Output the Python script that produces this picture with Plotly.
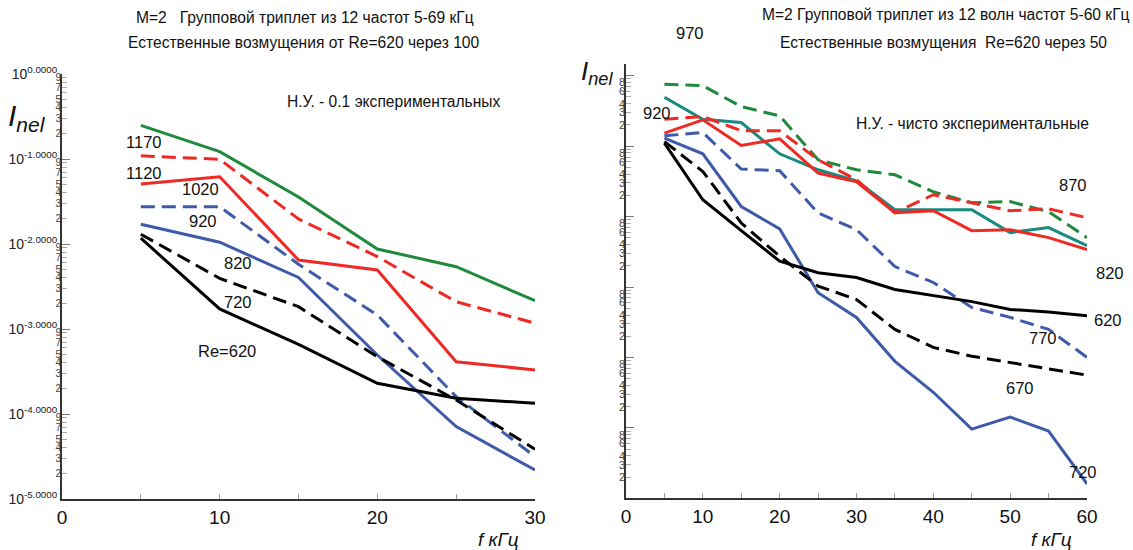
import plotly.graph_objects as go

# ---------------- data ----------------
f_left = [5, 10, 15, 20, 25, 30]
left_1170 = [0.249, 0.122, 0.0357, 0.00873, 0.00541, 0.00215]
left_1120 = [0.109, 0.0991, 0.0197, 0.0071, 0.00209, 0.00117]
left_1020 = [0.0508, 0.0619, 0.00649, 0.00494, 0.000412, 0.00033]
left_920 = [0.0275, 0.0275, 0.00577, 0.00146, 0.00016, 3.15e-5]
left_820 = [0.0171, 0.0105, 0.00404, 0.000494, 7.1e-5, 2.19e-5]
left_720 = [0.013, 0.00394, 0.00183, 0.000472, 0.000146, 3.85e-5]
left_620 = [0.0117, 0.00172, 0.000658, 0.00023, 0.000153, 0.000134]

f_right = [5, 10, 15, 20, 25, 30, 35, 40, 45, 50, 55, 60]
right_970 = [0.755, 0.721, 0.364, 0.269, 0.064, 0.0461, 0.0392, 0.0225, 0.0157, 0.0163, 0.0117, 0.00502]
right_920 = [0.494, 0.241, 0.216, 0.0778, 0.0461, 0.0322, 0.01253, 0.0125, 0.0125, 0.00592, 0.00697, 0.00387]
right_870 = [0.241, 0.263, 0.166, 0.165, 0.064, 0.0333, 0.01135, 0.0204, 0.0157, 0.0121, 0.0129, 0.00964]
right_820 = [0.153, 0.236, 0.102, 0.127, 0.0415, 0.0311, 0.01135, 0.0121, 0.0063, 0.00652, 0.00502, 0.0034]
right_770 = [0.14, 0.156, 0.0472, 0.0447, 0.01125, 0.00652, 0.00195, 0.00116, 0.000513, 0.00037, 0.00025, 0.0001]
right_720 = [0.13, 0.0778, 0.0139, 0.00667, 0.000828, 0.00037, 8.8e-5, 3.2e-5, 9.6e-6, 1.42e-5, 9e-6, 1.6e-6]
right_670 = [0.116, 0.0437, 0.0081, 0.00273, 0.00103, 0.000665, 0.00025, 0.000139, 0.000104, 8.5e-5, 6.8e-5, 5.6e-5]
right_620 = [0.110, 0.0173, 0.0063, 0.00232, 0.00159, 0.00136, 0.00092, 0.00076, 0.00062, 0.00048, 0.00044, 0.00039]

left_decades = [1e0, 1e-1, 1e-2, 1e-3, 1e-4, 1e-5]
left_decade_text = ["10<sup>0.0000</sup>", "10<sup>-1.0000</sup>", "10<sup>-2.0000</sup>",
                    "10<sup>-3.0000</sup>", "10<sup>-4.0000</sup>", "10<sup>-5.0000</sup>"]
left_minor_digits = [2, 3, 4, 5, 7, 9]
right_minor_digits = [2, 3, 4, 6, 8]

# ---------------- styles ----------------
GREEN = "#1f8a3c"
RED = "#ee2a24"
BLUE = "#3f5aa8"
TEAL = "#178a82"
BLACK = "#000000"
DASH = "14px,7px"
FONT = "Liberation Sans, Arial, sans-serif"
W, H = 1133, 550


def px(x):
    return x / W


def py(y):
    return 1 - y / H


fig = go.Figure()

left_series = [
    (left_1170, GREEN, "solid"),
    (left_1120, RED, DASH),
    (left_1020, RED, "solid"),
    (left_920, BLUE, DASH),
    (left_820, BLUE, "solid"),
    (left_720, BLACK, DASH),
    (left_620, BLACK, "solid"),
]
for vals, col, dash in left_series:
    fig.add_trace(go.Scatter(x=f_left, y=vals, mode="lines", xaxis="x", yaxis="y",
                             line=dict(color=col, width=3, dash=dash), showlegend=False,
                             hoverinfo="skip"))

right_series = [
    (right_970, GREEN, DASH),
    (right_920, TEAL, "solid"),
    (right_870, RED, DASH),
    (right_820, RED, "solid"),
    (right_770, BLUE, DASH),
    (right_720, BLUE, "solid"),
    (right_670, BLACK, DASH),
    (right_620, BLACK, "solid"),
]
for vals, col, dash in right_series:
    fig.add_trace(go.Scatter(x=f_right, y=vals, mode="lines", xaxis="x2", yaxis="y2",
                             line=dict(color=col, width=3, dash=dash), showlegend=False,
                             hoverinfo="skip"))

# dummy traces for the minor-label overlay axes
fig.add_trace(go.Scatter(x=[5], y=[1e-3], xaxis="x", yaxis="y3", mode="markers",
                         marker=dict(opacity=0), showlegend=False, hoverinfo="skip"))
fig.add_trace(go.Scatter(x=[5], y=[1e-3], xaxis="x2", yaxis="y4", mode="markers",
                         marker=dict(opacity=0), showlegend=False, hoverinfo="skip"))

left_minor_vals = [m * d / 10 for d in left_decades for m in range(2, 10) if d > 1e-5]
left_minor_lab_vals = [m * d / 10 for d in left_decades for m in left_minor_digits if d > 1e-5]
left_minor_lab_text = [str(m) for d in left_decades for m in left_minor_digits if d > 1e-5]

right_decades = [10.0 ** (-k) for k in range(0, 7)]
right_minor_vals = [m * d / 10 for d in right_decades for m in range(2, 10) if d > 1e-6]
right_minor_lab_vals = [m * d / 10 for d in right_decades for m in right_minor_digits if d > 1e-6]
right_minor_lab_text = [str(m) for d in right_decades for m in right_minor_digits if d > 1e-6]

LX0, LX1 = px(62), px(535)
RX0, RX1 = px(626), px(1087)
LY0, LY1 = py(499), py(74)
RY0, RY1 = py(498.3), py(64)
AXC = "#333333"

xcommon = dict(showline=True, linecolor=AXC, linewidth=2, ticks="inside", ticklen=5,
               tickwidth=1, tickcolor="#999999", showgrid=False, zeroline=False, automargin=False,
               tickfont=dict(family=FONT, size=19, color="#111"),
               minor=dict(dtick=5, ticks="inside", ticklen=5, tickcolor="#999999", showgrid=False))

fig.update_layout(
    width=W, height=H, margin=dict(l=0, r=0, t=0, b=0, autoexpand=False),
    paper_bgcolor="white", plot_bgcolor="white",
    xaxis=dict(domain=[LX0, LX1], anchor="y", range=[0, 30], dtick=10, **xcommon),
    xaxis2=dict(domain=[RX0, RX1], anchor="y2", range=[0, 60], dtick=10, **xcommon),
    yaxis=dict(domain=[LY0, LY1], anchor="x", type="log", range=[-5, 0], automargin=False,
               showline=True, linecolor=AXC, linewidth=2, showgrid=False, zeroline=False,
               tickmode="array", tickvals=left_decades, ticktext=left_decade_text,
               ticks="inside", ticklen=8, tickcolor="#777", tickwidth=1,
               tickfont=dict(family=FONT, size=14, color="#222"),
               minor=dict(tickmode="array", tickvals=left_minor_vals, ticks="inside",
                          ticklen=5, tickcolor="#aaaaaa", showgrid=False)),
    yaxis3=dict(overlaying="y", anchor="x", side="left", type="log", range=[-5, 0],
                automargin=False,
                showline=False, showgrid=False, zeroline=False, ticks="",
                tickmode="array", tickvals=left_minor_lab_vals, ticktext=left_minor_lab_text,
                tickfont=dict(family=FONT, size=10, color="#444")),
    yaxis2=dict(domain=[RY0, RY1], anchor="x2", type="log", range=[-6, 0.166], automargin=False,
                showline=True, linecolor=AXC, linewidth=2, showgrid=False, zeroline=False,
                tickmode="array", tickvals=right_decades, ticktext=[""] * len(right_decades),
                ticks="inside", ticklen=8, tickcolor="#777", tickwidth=1,
                minor=dict(tickmode="array", tickvals=right_minor_vals, ticks="inside",
                           ticklen=5, tickcolor="#aaaaaa", showgrid=False)),
    yaxis4=dict(overlaying="y2", anchor="x2", side="left", type="log", range=[-6, 0.166],
                automargin=False,
                showline=False, showgrid=False, zeroline=False, ticks="",
                tickmode="array", tickvals=right_minor_lab_vals, ticktext=right_minor_lab_text,
                tickfont=dict(family=FONT, size=11, color="#444")),
)

ann = []


def text(x, y, s, size=16.5, italic=False, xanchor="center"):
    if italic:
        s = "<i>" + s + "</i>"
    ann.append(dict(x=px(x), y=py(y), xref="paper", yref="paper", text=s, showarrow=False,
                    xanchor=xanchor, yanchor="middle", font=dict(family=FONT, size=size, color="#111")))


TS = 15.6
# titles
text(305, 18, "M=2   Групповой триплет из 12 частот 5-69 кГц", TS)
text(304, 43, "Естественные возмущения от Re=620 через 100", TS)
text(394, 102, "Н.У. - 0.1 экспериментальных", TS)
text(760, 15, "M=2 Групповой триплет из 12 волн частот 5-60 кГц", TS, xanchor="left")
text(943, 43, "Естественные возмущения  Re=620 через 50", TS)
text(972, 123, "Н.У. - чисто экспериментальные", TS)

# axis titles
text(27, 117, "I<sub>nel</sub>", 30, italic=True)
text(597, 73, "I<sub>nel</sub>", 26, italic=True)
text(498, 539, "f кГц", 19, italic=True)
text(1051, 539, "f кГц", 19, italic=True)

# curve labels, left
LS = 16.5
text(143, 142, "1170", LS)
text(143, 173, "1120", LS)
text(200, 189, "1020", LS)
text(203, 221, "920", LS)
text(238, 263, "820", LS)
text(238, 302, "720", LS)
text(227, 351, "Re=620", LS)

# curve labels, right
text(690, 33, "970", LS)
text(657, 113, "920", LS)
text(1073, 185, "870", LS)
text(1110, 273, "820", LS)
text(1108, 320, "620", LS)
text(1043, 338, "770", LS)
text(1020, 388, "670", LS)
text(1083, 472, "720", LS)

fig.update_layout(annotations=ann)
fig.write_html("out.html", config={"displayModeBar": False},
               post_script="document.body.style.margin='0';document.body.style.padding='0';")
